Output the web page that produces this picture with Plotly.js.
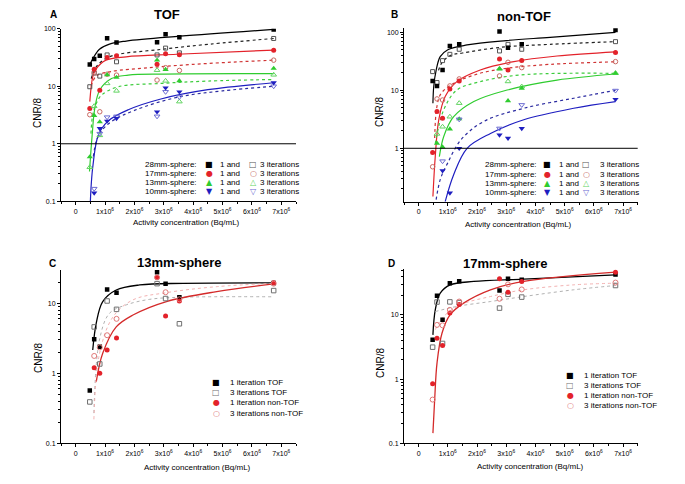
<!DOCTYPE html>
<html>
<head>
<meta charset="utf-8">
<script src="https://cdn.plot.ly/plotly-3.0.1.min.js"></script>
<style>body{margin:0;background:#fff}#chart{width:685px;height:484px}</style>
</head>
<body>
<div id="chart"></div>
<script>
// activity concentration, in units of 10^6 Bq/mL
var conc = [0.48, 0.63, 0.82, 1.07, 1.39, 2.77, 3.06, 3.53, 6.74];
var tickVals = [0, 1, 2, 3, 4, 5, 6, 7];
var tickText = ['0', '1x10<sup>6</sup>', '2x10<sup>6</sup>', '3x10<sup>6</sup>', '4x10<sup>6</sup>',
  '5x10<sup>6</sup>', '6x10<sup>6</sup>', '7x10<sup>6</sup>'];
var sphereNames = ['28mm-sphere:', '17mm-sphere:', '13mm-sphere:', '10mm-sphere:'];
var sphereLegendTexts = ['1 and', '3 iterations'];
var sphereLegendIters = ['1 iteration TOF', '3 iterations TOF', '1 iteration non-TOF', '3 iterations non-TOF'];

// A: TOF, CNR/8 per sphere (1 and 3 iterations)
var tof28one = [23.9, 29.6, 34, 68, 57.5, 58, 80, 71, 97];
var tof28three = [9.8, 17, 15, 35, 26.6, 35, 46, 38, 67.6];
var tof17one = [4.1, 19.8, 8.5, 31.6, 33.8, 24.2, 36.6, 35.2, 42.4];
var tof17three = [3.2, 17, 3.6, 16.2, 15.6, 12.8, 21, 18.8, 28.4];
var tof13one = [0.59, 3.1, 2.4, 15.8, 14.2, 28.4, 19.5, 12.4, 20.4];
var tof13three = [0.39, 4.5, 1.4, 11.2, 8.3, 19, 12.4, 5.4, 15.8];
var tof10one = [null, 0.14, 1.85, 2.48, 2.75, 3.6, 9.4, 8, 11.5];
var tof10three = [null, 0.166, 1.5, 2.9, 3.0, 3.0, 8, 6.5, 10];

// A: fitted curves
var fitTof28oneX = [0.47, 0.58, 0.81, 1.15, 1.72, 3.55, 6.74];
var fitTof28oneY = [23, 30, 44, 54, 61, 74, 97];
var fitTof28threeX = [0.53, 0.7, 1.15, 2.87, 4.58, 6.74];
var fitTof28threeY = [13.6, 21.8, 32.5, 43.5, 54, 67.6];
var fitTof17oneX = [0.48, 0.58, 0.68, 1.03, 1.72, 3.44, 6.74];
var fitTof17oneY = [5.4, 14.5, 19.5, 28.4, 32.5, 36, 42.4];
var fitTof17threeX = [0.53, 0.7, 1.2, 2.5, 4.0, 5.5, 6.74];
var fitTof17threeY = [10, 15, 18, 21, 24, 26.5, 28.4];
var fitTof13oneX = [0.47, 0.56, 0.65, 0.82, 1.22, 1.79, 3, 6.74];
var fitTof13oneY = [0.33, 1.4, 4.1, 8.6, 13.6, 15.6, 16.3, 16.5];
var fitTof13threeX = [0.52, 0.58, 0.7, 0.88, 1.45, 2.93, 4.5, 6.74];
var fitTof13threeY = [1.5, 3.2, 5, 7, 9.8, 11.2, 12.3, 13.1];
var fitTof10oneX = [0.5, 0.53, 0.59, 0.77, 1.11, 1.79, 2.9, 4.5, 6.74];
var fitTof10oneY = [0.1, 0.2, 0.43, 1.41, 2.5, 3.9, 6, 8.7, 11.5];
var fitTof10threeX = [0.6, 0.7, 0.85, 1.2, 2.0, 3.5, 5.0, 6.74];
var fitTof10threeY = [0.6, 1.1, 1.6, 2.4, 3.8, 6.5, 8.3, 10];

// B: non-TOF
var non28one = [14.5, 11.9, 22.4, 58, 62, 103, 54, 62, 110];
var non28three = [21, 13.6, 32.5, 41.7, 51, 47.7, 62, 51, 69];
var non17one = [0.85, 4.3, 3.3, 10.5, 14.5, 34.7, 22.4, 32.5, 45];
var non17three = [0.48, 7.1, 6.8, 11.9, 15.7, 17.7, 30.4, 24.6, 31.2];
var non13one = [null, 1.22, 1.05, 2.15, 3.2, 23.3, 6.6, 10.8, 19.6];
var non13three = [null, 1.77, 2.35, 3.5, 6.0, 23.5, 14.2, 11.6, 19.8];
var non10one = [null, null, 0.41, 0.17, 1.0, 1.7, 1.49, 2.2, 7.0];
var non10three = [null, null, 0.6, null, 3.16, 2.2, null, 5.6, 9.9];

var fitNon28oneX = [0.49, 0.52, 0.6, 0.74, 1.0, 1.66, 3.0, 4.5, 6.74];
var fitNon28oneY = [6, 12, 22, 38, 50, 60.5, 72, 82, 100];
var fitNon28threeX = [0.68, 0.8, 1.1, 1.5, 2.8, 4.5, 6.74];
var fitNon28threeY = [22, 30, 40, 44, 55, 62, 69];
var fitNon17oneX = [0.49, 0.57, 0.69, 0.91, 1.31, 2.11, 3.26, 4.74, 6.74];
var fitNon17oneY = [0.147, 0.72, 3.1, 7.8, 14.1, 22.4, 31.2, 39, 46];
var fitNon17threeX = [0.55, 0.62, 0.75, 1.11, 2.0, 3.03, 4.5, 6.74];
var fitNon17threeY = [1.5, 5, 8.5, 12.4, 19, 24, 28, 31];
var fitNon13oneX = [0.71, 0.86, 1.2, 1.89, 3.03, 4.74, 6.74];
var fitNon13oneY = [0.72, 1.6, 3.5, 6.4, 10.1, 15, 19.1];
var fitNon13threeX = [0.57, 0.86, 1.31, 2.11, 3.49, 6.74];
var fitNon13threeY = [1.2, 4.6, 10.1, 14.1, 18.4, 19.6];
var fitNon10oneX = [0.91, 1.2, 1.66, 2.46, 3.6, 5.31, 6.74];
var fitNon10oneY = [0.12, 0.35, 1, 1.8, 3.1, 4.9, 6.4];
var fitNon10threeX = [0.6, 0.75, 0.99, 1.45, 2.23, 3.6, 5.31, 6.74];
var fitNon10threeY = [0.13, 0.3, 0.55, 1.4, 2.9, 4.9, 7.3, 10];

// C: 13mm-sphere
var s13tof1 = [0.57, 3.06, 2.4, 15.8, 14.2, 27.7, 19.1, 12.2, 19.5];
var s13tof3 = [0.39, 4.6, 1.36, 10.8, 8.2, 19.1, 11.7, 5.1, 15.2];
var s13non1 = [null, 1.2, 1.0, 2.15, 3.2, 23.3, 6.6, 10.8, 19.7];
var s13non3 = [null, 1.77, 2.35, 3.5, 6.0, 23.5, 14.4, 11.4, 19.1];
var fitS13tof1X = [0.58, 0.7, 0.92, 1.38, 2.18, 3.66, 6.74];
var fitS13tof1Y = [2.15, 5.2, 10.6, 15.5, 18.3, 19.3, 19.6];
var fitS13tof3X = [0.62, 0.81, 1.15, 1.72, 2.52, 3.55, 6.74];
var fitS13tof3Y = [0.27, 3, 7.2, 9.5, 11.4, 12.2, 12.4];
var fitS13non1X = [0.7, 0.92, 1.38, 1.95, 3.09, 4.8, 6.74];
var fitS13non1Y = [0.76, 1.93, 4.6, 6.8, 10.6, 14.7, 18.9];
var fitS13non3X = [0.62, 0.81, 1.27, 1.95, 3.09, 4.8, 6.74];
var fitS13non3Y = [0.22, 1.9, 6.4, 11.2, 14.2, 17.3, 19.3];

// D: 17mm-sphere
var s17tof1 = [4.1, 19.9, 8.4, 31.3, 33.7, 24.1, 36.6, 35.3, 42.8];
var s17tof3 = [3.15, 15.9, 3.6, 16, 15.6, 12.8, 21, 19, 28.8];
var s17non1 = [0.85, 4.35, 3.35, 10.7, 14.6, 36.6, 22.7, 33.3, 46.5];
var s17non3 = [0.48, 7.0, 6.9, 12.0, 16.2, 17.9, 30, 25, 32];
var fitS17tof1X = [0.49, 0.57, 0.74, 1.08, 1.89, 3.6, 6.74];
var fitS17tof1Y = [4.9, 12, 21.9, 29.5, 33.3, 36.2, 42.3];
var fitS17tof3X = [0.57, 1.31, 2.46, 3.6, 5.31, 6.74];
var fitS17tof3Y = [11.3, 13.6, 16.2, 19.4, 24.7, 28.8];
var fitS17non1X = [0.49, 0.55, 0.63, 0.8, 1.08, 1.54, 2.46, 3.6, 6.74];
var fitS17non1Y = [0.144, 0.48, 1.78, 5.2, 10.1, 15.3, 24.7, 33.3, 46.5];
var fitS17non3X = [0.57, 0.86, 1.43, 2.46, 3.6, 5.31, 6.74];
var fitS17non3Y = [5.9, 9.5, 14.4, 19.4, 24.7, 29.5, 31.3];

var FONT = 'Liberation Sans, Arial, sans-serif';
var GLYPH_FONT = 'DejaVu Sans, sans-serif';

// marker / line styles for each sphere in A and B
var sphereStyles = [
  {sym: 'square', size: 4.5, gl: '■', glo: '□', col: '#000000', ocol: '#555555', dcol: '#222222'},
  {sym: 'circle', size: 5, gl: '●', glo: '○', col: '#e3222a', ocol: '#c86a64', dcol: '#d03434'},
  {sym: 'triangle-up', size: 5.5, gl: '▲', glo: '△', col: '#2fcc2f', ocol: '#62d462', dcol: '#3ccc3c'},
  {sym: 'triangle-down', size: 5.5, gl: '▼', glo: '▽', col: '#1e1ec0', ocol: '#6a6ad2', dcol: '#2a2aa0'}
];
// styles for the four iteration series in C and D
var iterStyles = [
  {sym: 'square', size: 4.5, gl: '■', col: '#000000', line: '#000000', dash: 'solid', w: 1.3},
  {sym: 'square-open', size: 4.5, gl: '□', col: '#707070', line: '#a8a8a8', dash: 'dot', w: 0.9},
  {sym: 'circle', size: 5, gl: '●', col: '#e3222a', line: '#d42a2a', dash: 'solid', w: 1.3},
  {sym: 'circle-open', size: 5, gl: '○', col: '#e07878', line: '#f0a8a8', dash: 'dot', w: 0.9}
];

var panelA = [
  [tof28one, tof28three, fitTof28oneX, fitTof28oneY, fitTof28threeX, fitTof28threeY],
  [tof17one, tof17three, fitTof17oneX, fitTof17oneY, fitTof17threeX, fitTof17threeY],
  [tof13one, tof13three, fitTof13oneX, fitTof13oneY, fitTof13threeX, fitTof13threeY],
  [tof10one, tof10three, fitTof10oneX, fitTof10oneY, fitTof10threeX, fitTof10threeY]
];
var panelB = [
  [non28one, non28three, fitNon28oneX, fitNon28oneY, fitNon28threeX, fitNon28threeY],
  [non17one, non17three, fitNon17oneX, fitNon17oneY, fitNon17threeX, fitNon17threeY],
  [non13one, non13three, fitNon13oneX, fitNon13oneY, fitNon13threeX, fitNon13threeY],
  [non10one, non10three, fitNon10oneX, fitNon10oneY, fitNon10threeX, fitNon10threeY]
];
var panelC = [[s13tof1, fitS13tof1X, fitS13tof1Y], [s13tof3, fitS13tof3X, fitS13tof3Y],
  [s13non1, fitS13non1X, fitS13non1Y], [s13non3, fitS13non3X, fitS13non3Y]];
var panelD = [[s17tof1, fitS17tof1X, fitS17tof1Y], [s17tof3, fitS17tof3X, fitS17tof3Y],
  [s17non1, fitS17non1X, fitS17non1Y], [s17non3, fitS17non3X, fitS17non3Y]];

var lines = [];
var marks = [];

function lineTrace(fx, fy, col, dash, w, ax) {
  return {x: fx, y: fy, mode: 'lines', xaxis: 'x' + ax, yaxis: 'y' + ax, showlegend: false,
    hoverinfo: 'skip', line: {color: col, dash: dash, width: w, shape: 'spline', smoothing: 1}};
}
function markTrace(ys, sym, col, size, ax) {
  var open = sym.indexOf('open') > 0;
  return {x: conc, y: ys, mode: 'markers', xaxis: 'x' + ax, yaxis: 'y' + ax, showlegend: false,
    marker: {symbol: sym, color: col, size: size, line: {color: col, width: open ? 1 : 0}}};
}

// sphere panels A and B
[[panelA, ''], [panelB, '2']].forEach(function (p) {
  p[0].forEach(function (s, i) {
    var st = sphereStyles[i];
    lines.push(lineTrace(s[2], s[3], st.col, 'solid', 1.2, p[1]));
    lines.push(lineTrace(s[4], s[5], st.dcol, 'dot', 1.2, p[1]));
    marks.push(markTrace(s[1], st.sym + '-open', st.ocol, st.size - 0.5, p[1]));
    marks.push(markTrace(s[0], st.sym, st.col, st.size, p[1]));
  });
});
// iteration panels C and D
[[panelC, '3'], [panelD, '4']].forEach(function (p) {
  p[0].forEach(function (s, i) {
    var st = iterStyles[i];
    lines.push(lineTrace(s[1], s[2], st.line, st.dash, st.w, p[1]));
    marks.push(markTrace(s[0], st.sym, st.col, st.size, p[1]));
  });
});

function X(px) { return px / 685; }
function Y(py) { return 1 - py / 484; }

function xAxis(l, r, anchor) {
  return {domain: [X(l), X(r)], anchor: anchor, range: [-0.5, 7.5], tickmode: 'array',
    tickvals: tickVals, ticktext: tickText, ticks: 'outside', ticklen: 3, tickcolor: '#000',
    showline: true, linecolor: '#000', linewidth: 1, showgrid: false, zeroline: false,
    tickfont: {family: FONT, size: 7, color: '#000'},
    minor: {ticks: 'outside', ticklen: 2, dtick: 0.5, tickcolor: '#000', showgrid: false}};
}
function yAxis(b, t, lo, hi, anchor) {
  return {domain: [Y(b), Y(t)], anchor: anchor, type: 'log', range: [lo, hi], dtick: 1,
    ticks: 'outside', ticklen: 3, tickcolor: '#000', showline: true, linecolor: '#000',
    linewidth: 1, showgrid: false, zeroline: false,
    tickfont: {family: FONT, size: 7, color: '#000'},
    minor: {ticks: 'outside', ticklen: 2, dtick: 'D1', tickcolor: '#000', showgrid: false}};
}

var annotations = [];
function ann(text, x, y, o) {
  o = o || {};
  annotations.push({text: text, x: X(x), y: Y(y), xref: 'paper', yref: 'paper', showarrow: false,
    xanchor: o.xa || 'center', yanchor: 'middle', textangle: o.rot || 0,
    font: {family: o.fam || FONT, size: o.size || 8, color: o.col || '#000'}});
}

// panel titles and letters
ann('<b>A</b>', 53, 15, {size: 10});
ann('<b>TOF</b>', 167, 15, {size: 13});
ann('<b>B</b>', 394, 15, {size: 10});
ann('<b>non-TOF</b>', 524, 16, {size: 13});
ann('<b>C</b>', 52, 263, {size: 10});
ann('<b>13mm-sphere</b>', 179, 262, {size: 13});
ann('<b>D</b>', 392, 263, {size: 10});
ann('<b>17mm-sphere</b>', 505, 263, {size: 13});

// axis titles
var xTitle = 'Activity concentration (Bq/mL)';
ann(xTitle, 187, 222, {size: 8});
ann(xTitle, 518, 225, {size: 8});
ann(xTitle, 197, 467, {size: 8});
ann(xTitle, 530, 466, {size: 8});
ann('CNR/8', 37, 113, {size: 10, rot: -90});
ann('CNR/8', 379, 112, {size: 10, rot: -90});
ann('CNR/8', 38, 358, {size: 10, rot: -90});
ann('CNR/8', 380, 363, {size: 10, rot: -90});

// legends of A and B (label, filled glyph, "1 and", open glyph, "3 iterations")
[[164, 9.2, 199, 209, 218, 253, 258], [164.7, 9.3, 539, 547, 556.5, 586, 598]].forEach(function (L) {
  sphereNames.forEach(function (name, i) {
    var y = L[0] + i * L[1];
    var st = sphereStyles[i];
    ann(name, L[2], y, {xa: 'right', size: 8});
    ann(st.gl, L[3], y, {fam: GLYPH_FONT, size: 8, col: st.col});
    ann(sphereLegendTexts[0], L[4], y, {xa: 'left', size: 8});
    ann(st.glo, L[5], y, {fam: GLYPH_FONT, size: 8, col: st.ocol});
    ann(sphereLegendTexts[1], L[6], y, {xa: 'left', size: 8});
  });
});
// legends of C and D
[[382.3, 10.3, 216, 228], [375.7, 10, 570, 581.5]].forEach(function (L) {
  sphereLegendIters.forEach(function (name, i) {
    var y = L[0] + i * L[1];
    ann(iterStyles[i].gl, L[2], y, {fam: GLYPH_FONT, size: 8, col: iterStyles[i].col});
    ann(name, L[3], y, {xa: 'left', size: 8});
  });
});

var layout = {
  width: 685, height: 484,
  margin: {l: 0, r: 0, t: 0, b: 0},
  paper_bgcolor: '#fff', plot_bgcolor: '#fff',
  showlegend: false,
  font: {family: FONT, color: '#000'},
  xaxis: xAxis(61, 296, 'y'),
  yaxis: yAxis(201.3, 28.7, -1, 2, 'x'),
  xaxis2: xAxis(404, 637.7, 'y2'),
  yaxis2: yAxis(201.7, 28.3, -0.921, 2.069, 'x2'),
  xaxis3: xAxis(61, 296, 'y3'),
  yaxis3: yAxis(443.3, 270, -1, 1.476, 'x3'),
  xaxis4: xAxis(404, 637.7, 'y4'),
  yaxis4: yAxis(443.3, 269.3, -1, 1.712, 'x4'),
  shapes: [
    {type: 'line', xref: 'x domain', yref: 'y', x0: 0, x1: 1, y0: 1, y1: 1, line: {color: '#000', width: 1}},
    {type: 'line', xref: 'x2 domain', yref: 'y2', x0: 0, x1: 1, y0: 1, y1: 1, line: {color: '#000', width: 1}}
  ],
  annotations: annotations
};

Plotly.newPlot('chart', lines.concat(marks), layout, {staticPlot: true});
</script>
</body>
</html>
